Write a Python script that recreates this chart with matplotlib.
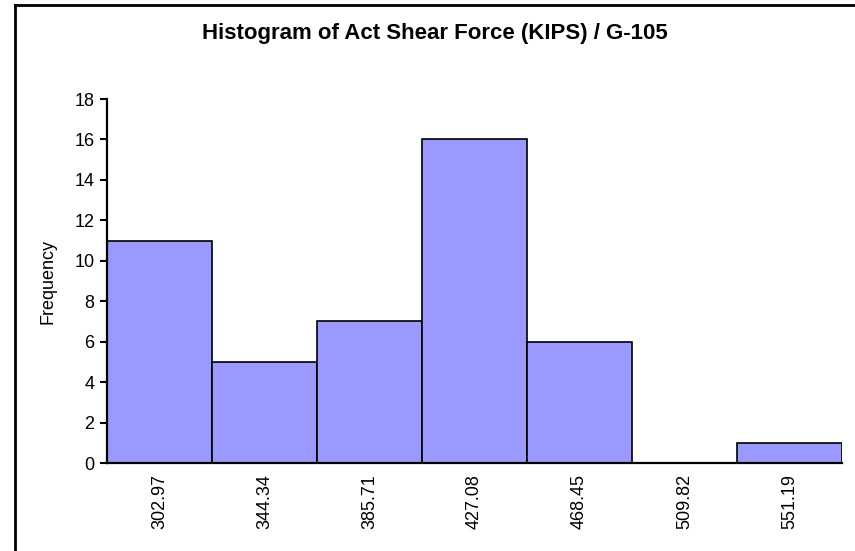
import matplotlib
matplotlib.use("Agg")
import matplotlib.pyplot as plt
from matplotlib.lines import Line2D

# data
bins = ["302.97", "344.34", "385.71", "427.08", "468.45", "509.82", "551.19"]
freq = [11, 5, 7, 16, 6, 0, 1]

plt.rcParams["font.family"] = ["Liberation Sans", "DejaVu Sans"]

fig = plt.figure(figsize=(8.55, 5.51), dpi=100)
ax = fig.add_axes([0.1251, 0.1597, 0.8597, 0.6606])

pos = list(range(len(bins)))
ax.bar(pos, freq, width=1.0, color="#9999FF", edgecolor="black", linewidth=1.2)

ax.set_xlim(-0.5, len(bins) - 0.5)
ax.set_ylim(0, 18)
ax.set_yticks(range(0, 19, 2))
ax.set_xticks(pos)
ax.set_xticklabels(bins, rotation=90, fontsize=13)
ax.tick_params(axis="x", length=0, pad=8)
ax.tick_params(axis="y", length=5, width=1.5, labelsize=13, pad=4)

for s in ["top", "right"]:
    ax.spines[s].set_visible(False)
for s in ["left", "bottom"]:
    ax.spines[s].set_linewidth(1.6)

ax.set_ylabel("Frequency", fontsize=13)
ax.yaxis.set_label_coords(-0.068, 0.5)

fig.text(0.509, 0.94, "Histogram of Act Shear Force (KIPS) / G-105",
         ha="center", va="center", fontsize=16, fontweight="bold")

# chart border (cropped at right/bottom)
fig.add_artist(Line2D([15 / 855, 1.0], [1 - 5 / 551, 1 - 5 / 551],
                      transform=fig.transFigure, color="black", linewidth=2))
fig.add_artist(Line2D([15 / 855, 15 / 855], [0, 1 - 5 / 551],
                      transform=fig.transFigure, color="black", linewidth=2))

fig.savefig("out.png", dpi=100)
